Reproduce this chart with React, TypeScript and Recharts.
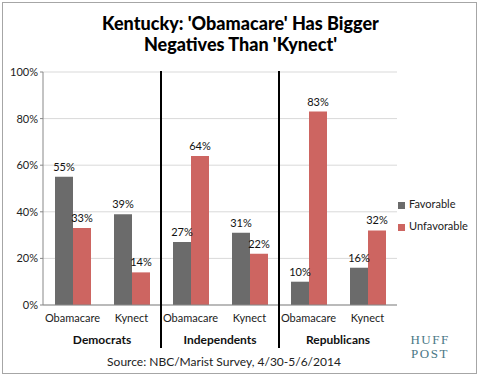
import React from 'react';
import {
  BarChart,
  Bar,
  XAxis,
  YAxis,
  CartesianGrid,
  Legend,
  LabelList,
} from 'recharts';

const categories = ['Obamacare', 'Kynect', 'Obamacare', 'Kynect', 'Obamacare', 'Kynect'];
const groups = ['Democrats', 'Independents', 'Republicans'];
const favorable = [55, 39, 27, 31, 10, 16];
const unfavorable = [33, 14, 64, 22, 83, 32];
const yTicks = [0, 20, 40, 60, 80, 100];

const W = 481;
const H = 377;
const PLOT_LEFT = 43;
const PLOT_RIGHT = 397;
const PLOT_TOP = 72;
const PLOT_BOTTOM = 305;
const LEGEND_W = 80;
const CAT_W = (PLOT_RIGHT - PLOT_LEFT) / categories.length;

const FONT = 'Lato, "Open Sans", sans-serif';

const data = categories.map((c, i) => ({
  name: c,
  group: groups[Math.floor(i / 2)],
  Favorable: favorable[i],
  Unfavorable: unfavorable[i],
}));

function CatTick(props: any) {
  const { x, y, payload, index } = props;
  return (
    <g>
      <text x={x} y={y + 9} textAnchor="middle" fontSize={11} fill="#222" fontFamily={FONT}>
        {payload.value}
      </text>
      {index % 2 === 0 && (
        <text
          x={x + CAT_W / 2}
          y={y + 31}
          textAnchor="middle"
          fontSize={12}
          fontWeight="bold"
          fill="#111"
          fontFamily={FONT}
        >
          {groups[index / 2]}
        </text>
      )}
    </g>
  );
}

export default function App() {
  return (
    <div style={{ position: 'fixed', left: 0, top: 0, width: W, height: H, background: '#fff' }}>
      <div
        style={{
          position: 'absolute',
          left: 2,
          top: 2,
          width: 473,
          height: 370,
          border: '1px solid #a6a6a6',
        }}
      />
      <div
        style={{
          position: 'absolute',
          left: 0,
          top: 13,
          width: W,
          textAlign: 'center',
          fontFamily: FONT,
          fontWeight: 900,
          fontSize: 18,
          lineHeight: '21px',
          color: '#000',
        }}
      >
        Kentucky: 'Obamacare' Has Bigger
        <br />
        Negatives Than 'Kynect'
      </div>
      <BarChart
        width={W}
        height={H}
        data={data}
        margin={{ top: PLOT_TOP, right: W - PLOT_RIGHT - LEGEND_W, bottom: H - PLOT_BOTTOM - 30, left: 0 }}
        barGap={0}
        barCategoryGap={12}
        style={{ position: 'absolute', left: 0, top: 0 }}
      >
        <CartesianGrid vertical={false} stroke="#d9d9d9" />
        <XAxis
          dataKey="name"
          height={30}
          tick={<CatTick />}
          tickLine={false}
          axisLine={{ stroke: '#888' }}
          interval={0}
        />
        <YAxis
          width={PLOT_LEFT}
          domain={[0, 100]}
          ticks={yTicks}
          tickFormatter={(v) => `${v}%`}
          tick={{ fontSize: 11, fill: '#222', fontFamily: FONT }}
          tickLine={{ stroke: '#888' }}
          tickSize={3}
          axisLine={{ stroke: '#888' }}
        />
        <Legend
          layout="vertical"
          align="right"
          verticalAlign="top"
          iconType="square"
          iconSize={7}
          wrapperStyle={{ left: 398, top: 193, width: LEGEND_W, fontFamily: FONT, fontSize: 11, lineHeight: '22px' }}
          formatter={(v) => <span style={{ color: '#222' }}>{v}</span>}
        />
        <Bar dataKey="Favorable" fill="#6b6b6b" isAnimationActive={false}>
          <LabelList
            dataKey="Favorable"
            position="top"
            offset={6}
            formatter={(v: any) => `${v}%`}
            style={{ fontSize: 11, fill: '#111', fontFamily: FONT }}
          />
        </Bar>
        <Bar dataKey="Unfavorable" fill="#cd6561" isAnimationActive={false}>
          <LabelList
            dataKey="Unfavorable"
            position="top"
            offset={6}
            formatter={(v: any) => `${v}%`}
            style={{ fontSize: 11, fill: '#111', fontFamily: FONT }}
          />
        </Bar>
      </BarChart>
      <svg width={W} height={H} style={{ position: 'absolute', left: 0, top: 0, pointerEvents: 'none' }}>
        {[1, 2].map((g) => (
          <line
            key={g}
            x1={PLOT_LEFT + CAT_W * 2 * g}
            x2={PLOT_LEFT + CAT_W * 2 * g}
            y1={PLOT_TOP - 1}
            y2={348}
            stroke="#000"
            strokeWidth={2}
          />
        ))}
        <text x={224} y={366} textAnchor="middle" fontSize={12} fill="#222" fontFamily={FONT}>
          Source: NBC/Marist Survey, 4/30-5/6/2014
        </text>
        <text x={430} y={344} textAnchor="middle" fontSize={13} fill="#4a7886" fontFamily='"Liberation Serif", serif' letterSpacing={1.5}>
          HUFF
        </text>
        <text x={430} y={358} textAnchor="middle" fontSize={13} fill="#4a7886" fontFamily='"Liberation Serif", serif' letterSpacing={1.5}>
          POST
        </text>
      </svg>
    </div>
  );
}
